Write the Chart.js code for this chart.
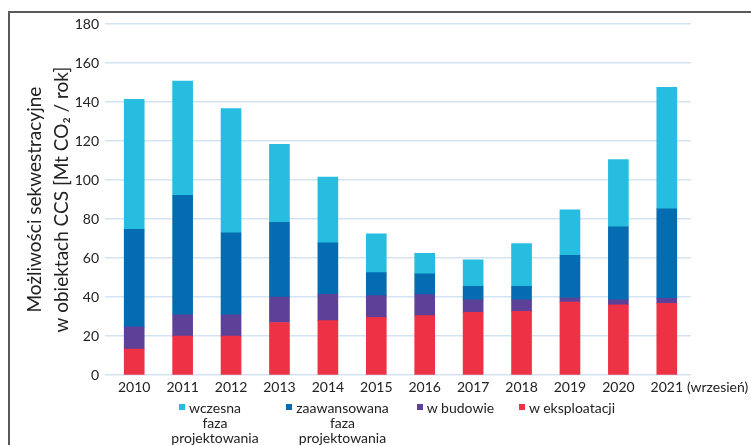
<!DOCTYPE html>
<html><head><meta charset="utf-8">
<script src="https://cdn.jsdelivr.net/npm/chart.js@4.4.1/dist/chart.umd.min.js"></script>
<style>
html,body{margin:0;padding:0;background:#fff;}
#wrap{position:relative;width:751px;height:445px;overflow:hidden;font-family:Lato,'Open Sans',sans-serif;color:#222;}
#frame{position:absolute;left:8px;top:11px;width:800px;height:500px;border-top:2px solid #5a5a5a;border-left:2px solid #5a5a5a;pointer-events:none;}
canvas{position:absolute;left:0;top:0;}
#legend{position:absolute;left:171px;top:400px;display:flex;align-items:flex-start;gap:33px;font-size:14px;line-height:15px;}
.item .txt{text-align:center;}
.item .l1{position:relative;}
.item .mk{position:absolute;left:-10px;top:5px;width:6px;height:6px;}
</style></head>
<body>
<div id="wrap">
  <canvas id="c" width="751" height="445"></canvas>
  <div id="frame"></div>
  <div id="legend"></div>
</div>
<script>
const years = ['2010','2011','2012','2013','2014','2015','2016','2017','2018','2019','2020','2021'];
const lastNote = '(wrzesień)';
const yTicks = [0,20,40,60,80,100,120,140,160,180];
const yTitle = ['Możliwości sekwestracyjne', 'w obiektach CCS [Mt CO\u2082 / rok]'];

const seriesNames = {
  early: ['wczesna','faza','projektowania'],
  advanced: ['zaawansowana','faza','projektowania'],
  construction: ['w budowie'],
  operation: ['w eksploatacji']
};
const operation    = [13.4, 20.0, 20.0, 27.0, 28.0, 29.6, 30.5, 32.2, 32.7, 37.5, 36.1, 36.8];
const construction = [11.4, 11.0, 11.0, 13.0, 13.4, 11.2, 10.8,  6.4,  5.9,  2.1,  2.5,  2.6];
const advanced     = [49.9, 61.2, 42.0, 38.4, 26.4, 11.8, 10.7,  7.0,  7.0, 21.9, 37.5, 45.9];
const early        = [66.7, 58.6, 63.7, 39.9, 33.7, 19.9, 10.5, 13.5, 21.9, 23.3, 34.4, 62.3];

const colors = {
  early: '#27bde0',
  advanced: '#046cb0',
  construction: '#5d4097',
  operation: '#ee3245'
};
const legendOrder = ['early','advanced','construction','operation'];
const legendWidths = {early: 88, advanced: 101, construction: 69, operation: 88};

const FONT = "Lato, 'Open Sans', sans-serif";
Chart.defaults.font.family = FONT;
Chart.defaults.color = '#222';

const datasets = [
  {key:'operation', label: seriesNames.operation.join(' '), data: operation, backgroundColor: colors.operation},
  {key:'construction', label: seriesNames.construction.join(' '), data: construction, backgroundColor: colors.construction},
  {key:'advanced', label: seriesNames.advanced.join(' '), data: advanced, backgroundColor: colors.advanced},
  {key:'early', label: seriesNames.early.join(' '), data: early, backgroundColor: colors.early}
].map(d => Object.assign(d, {borderWidth:0, barThickness:20}));

const X_PAD = 4, X_FONT = 14;
const notePlugin = {
  id: 'note',
  afterDraw(chart) {
    const xs = chart.scales.x;
    const ctx = chart.ctx;
    const i = years.length - 1;
    const x = xs.getPixelForTick(i);
    ctx.save();
    ctx.font = X_FONT + 'px ' + FONT;
    const w = ctx.measureText(years[i]).width;
    ctx.fillStyle = '#222';
    ctx.textAlign = 'left';
    ctx.textBaseline = 'middle';
    const labelY = xs.top + X_PAD + X_FONT * 1.2 / 2;
    ctx.fillText(lastNote, x + w / 2 + 4, labelY);
    ctx.restore();
  }
};

const chart = new Chart(document.getElementById('c'), {
  type: 'bar',
  data: { labels: years, datasets },
  options: {
    responsive: false,
    animation: false,
    layout: { padding: { left: 12, right: 60, top: 24, bottom: 45 } },
    plugins: { legend: { display: false }, tooltip: { enabled: false } },
    scales: {
      x: {
        stacked: true,
        grid: { display: false, drawTicks: false },
        border: { display: false },
        ticks: { font: { size: X_FONT }, color: '#222', padding: X_PAD, maxRotation: 0, autoSkip: false }
      },
      y: {
        stacked: true,
        min: 0, max: 180,
        afterBuildTicks(s) { s.ticks = yTicks.map(v => ({ value: v })); },
        ticks: { font: { size: 14 }, color: '#222', padding: 6 },
        grid: { color: '#d3e3f3', lineWidth: 1.5, tickLength: 5, drawTicks: true, tickColor: '#d3e3f3' },
        border: { display: false },
        title: { display: true, text: yTitle, font: { size: 19, lineHeight: 1.4 }, color: '#222', padding: { top: 10, bottom: 2 } },
        afterFit(s) { s.width = 98; }
      }
    }
  },
  plugins: [notePlugin]
});

// HTML legend built from the datasets (reverse stack order)
const legend = document.getElementById('legend');
legendOrder.forEach(k => {
  const lines = seriesNames[k];
  const item = document.createElement('div');
  item.className = 'item';
  item.style.minWidth = legendWidths[k] + 'px';
  const txt = document.createElement('div');
  txt.className = 'txt';
  const l1 = document.createElement('span');
  l1.className = 'l1';
  const mk = document.createElement('i');
  mk.className = 'mk';
  mk.style.background = colors[k];
  l1.appendChild(mk);
  l1.appendChild(document.createTextNode(lines[0]));
  txt.appendChild(l1);
  for (let j = 1; j < lines.length; j++) {
    txt.appendChild(document.createElement('br'));
    txt.appendChild(document.createTextNode(lines[j]));
  }
  item.appendChild(txt);
  legend.appendChild(item);
});
</script>
</body></html>
